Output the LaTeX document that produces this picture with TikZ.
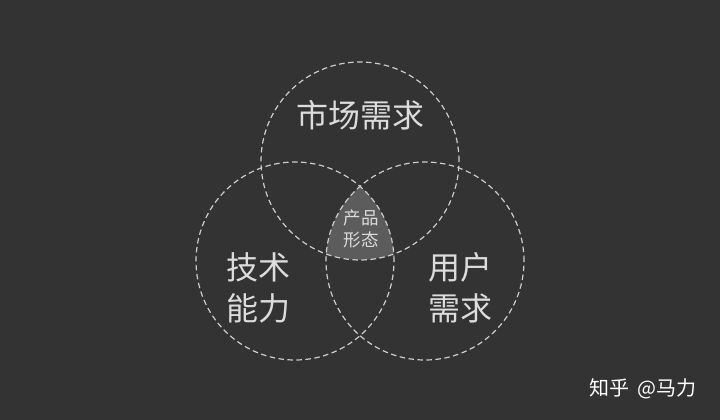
\documentclass[tikz,border=0pt]{standalone}
\usepackage{fontspec}
\newfontfamily\cjk{Noto Sans CJK SC}
\definecolor{bg}{RGB}{51,51,51}
\definecolor{dashc}{RGB}{205,205,205}
\definecolor{txt}{RGB}{220,220,220}
\definecolor{fillc}{RGB}{92,92,92}
\begin{document}
\begin{tikzpicture}[x=1pt,y=-1pt,
  venn/.style={circle,draw=dashc,line width=1.2pt,dash pattern=on 5.5pt off 3.5pt,minimum size=198pt,inner sep=0pt},
  bigtxt/.style={text=txt,align=center,inner sep=0pt,font=\cjk\fontsize{32}{41}\selectfont},
  smalltxt/.style={text=txt,align=center,inner sep=0pt,font=\cjk\fontsize{17.5}{22}\selectfont},
  wmtxt/.style={text=white,inner sep=0pt,font=\cjk\fontsize{20}{24}\selectfont}]
\fill[bg] (0,0) rectangle (720,420);
\useasboundingbox (0,0) rectangle (720,420);
\begin{scope}
\clip (360,161) circle (99pt);
\clip (295,261) circle (99pt);
\fill[fillc] (425,261) circle (99pt);
\end{scope}
\node[venn] (market) at (360,161) {};
\node[venn] (tech) at (295,261) {};
\node[venn] (user) at (425,261) {};
\node[bigtxt] (tmarket) at (360,115) {市场需求};
\node[bigtxt] (ttech) at (258,288) {技术\\能力};
\node[bigtxt] (tuser) at (460,288) {用户\\需求};
\node[smalltxt] (tprod) at (361,229) {产品\\形态};
\node[wmtxt] (wm) at (643,389) {知乎\hspace{0.15em} @马力};
\end{tikzpicture}
\end{document}
